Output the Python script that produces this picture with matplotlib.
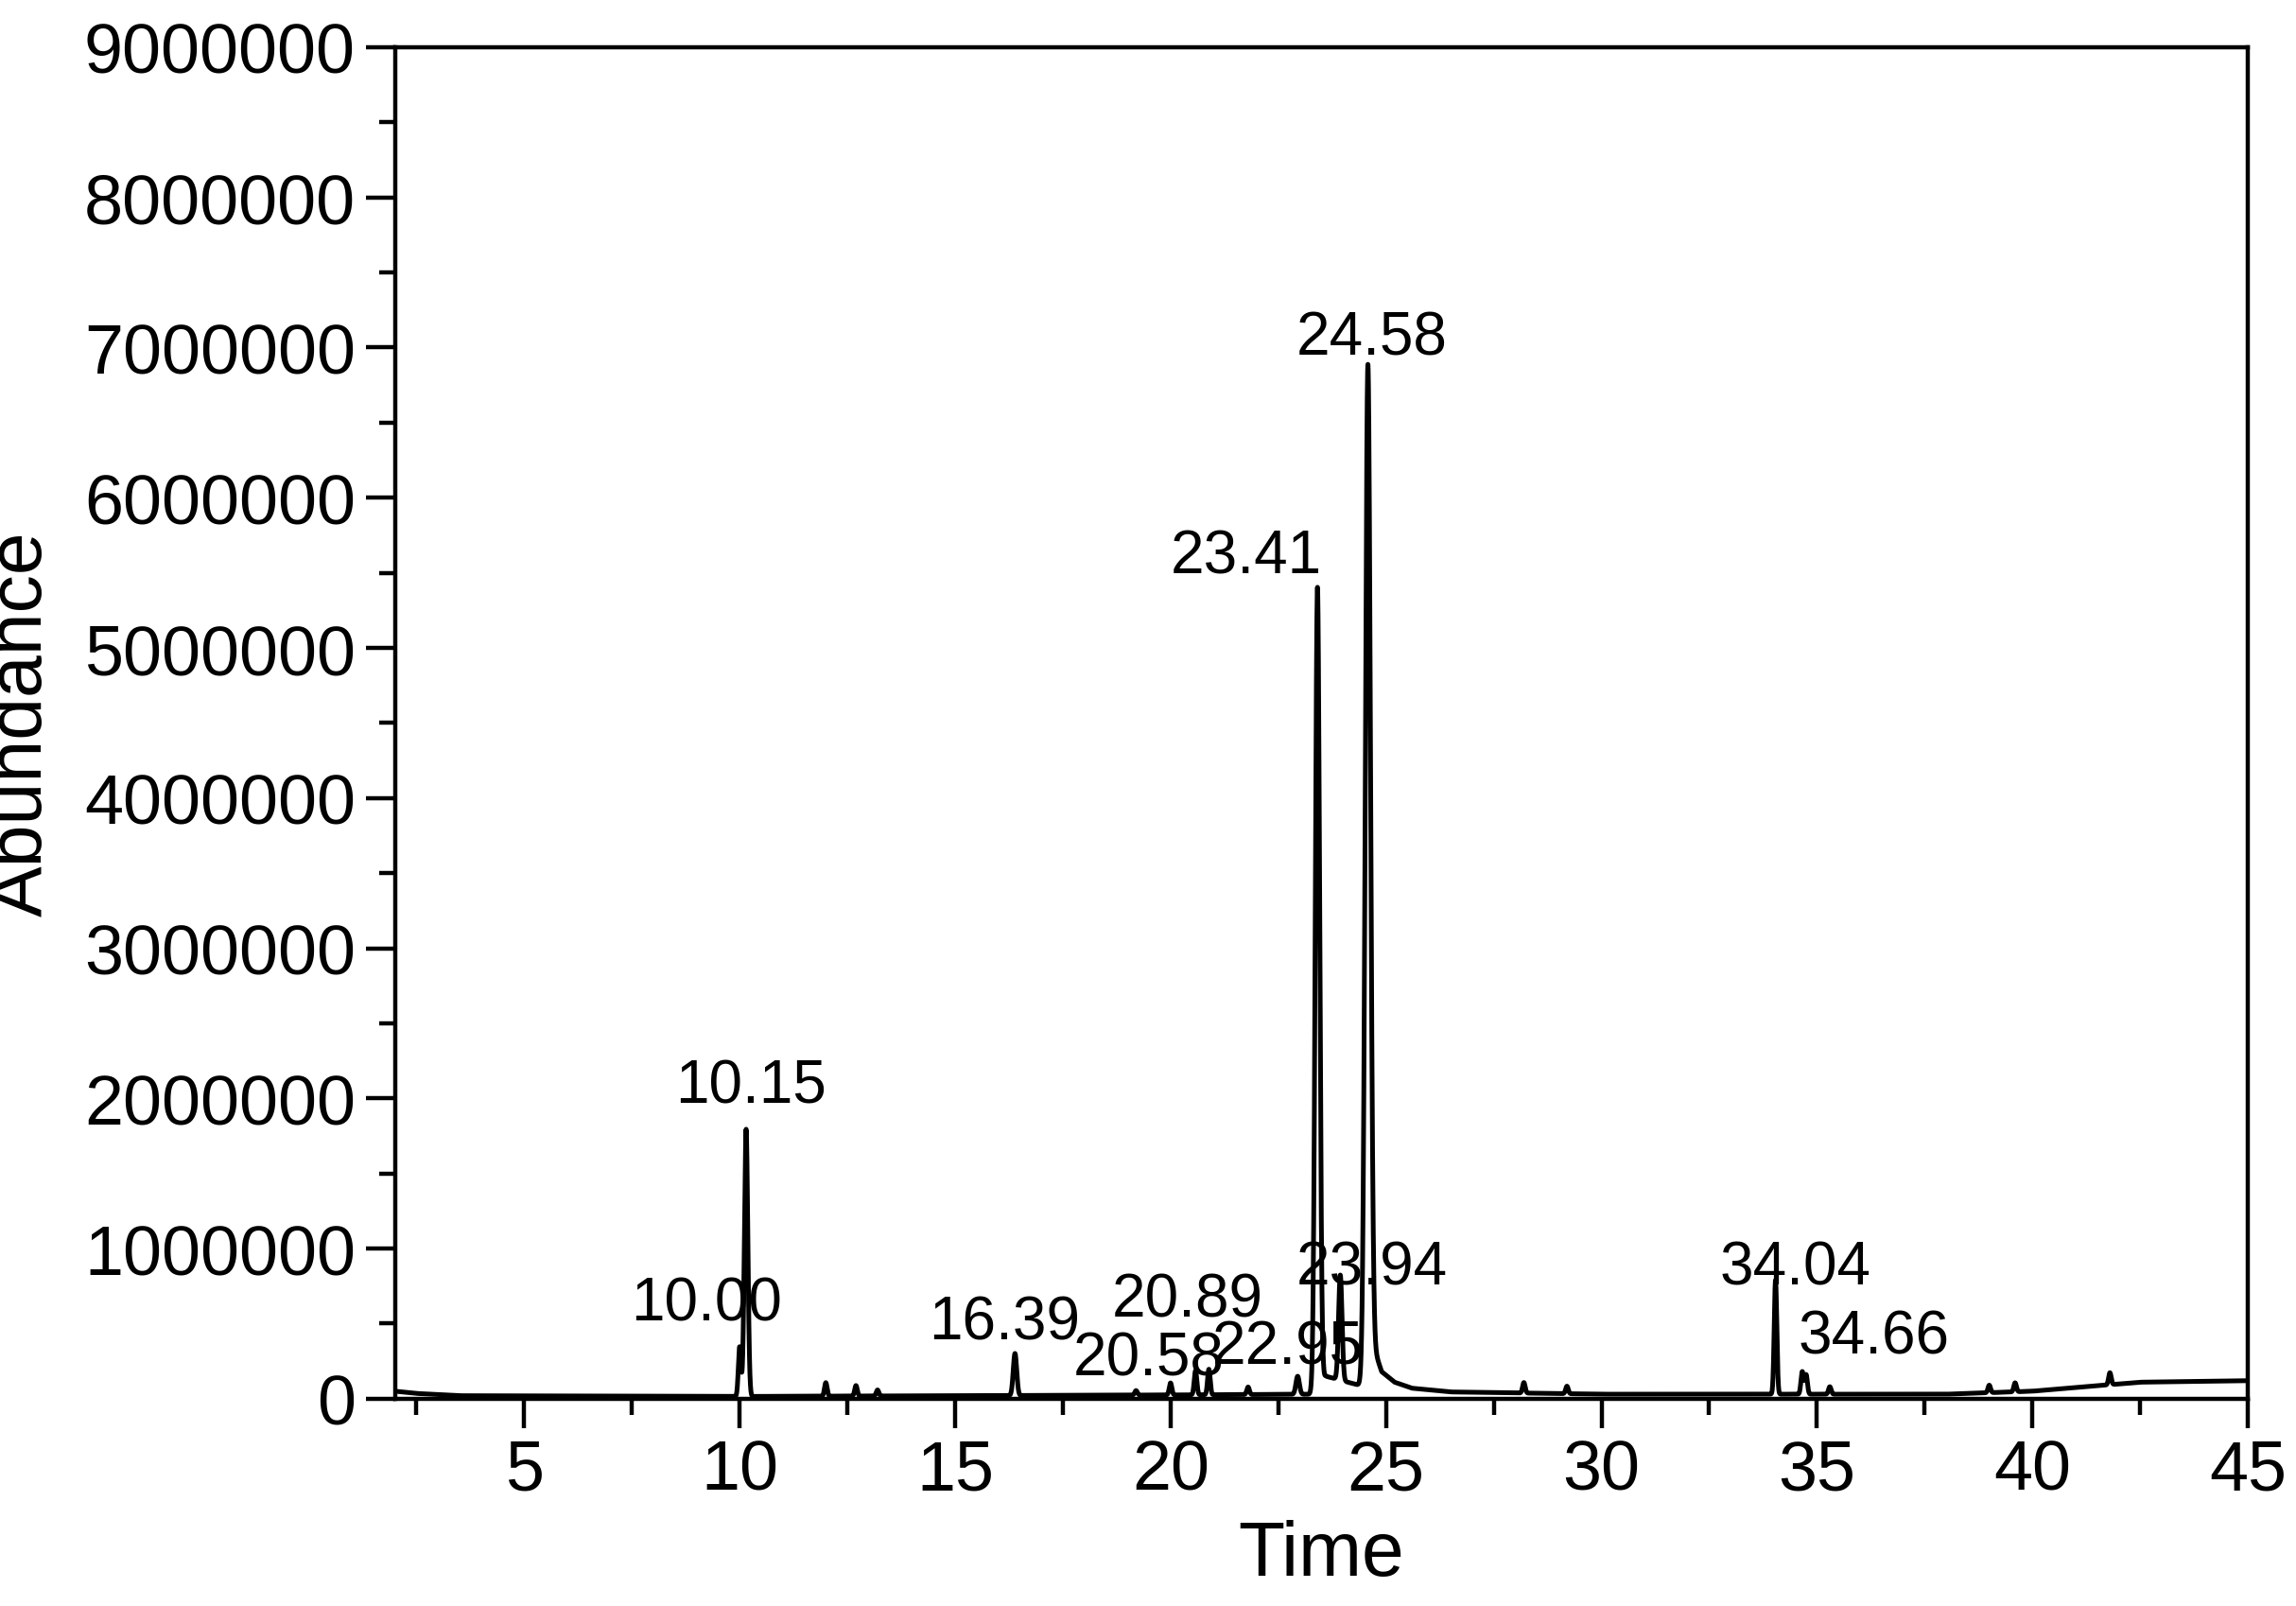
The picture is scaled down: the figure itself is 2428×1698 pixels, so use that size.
import numpy as np
import matplotlib; matplotlib.use("Agg"); import matplotlib.pyplot as plt
from matplotlib.ticker import MultipleLocator

plt.rcParams['font.family'] = ['Liberation Sans', 'DejaVu Sans']

# 峰的位置、高度、寬度（從圖上估的）
PEAK_T = [10.00, 10.15, 12.0, 12.7, 13.2, 16.39, 19.2, 20.0, 20.58, 20.89, 21.8, 22.95,
          23.41, 23.94, 24.58, 28.2, 29.2, 34.04, 34.66, 34.75, 35.3, 39.0, 39.6, 41.8]
PEAK_H = [330000, 1780000, 90000, 70000, 40000, 280000, 30000, 80000, 160000, 170000, 50000, 120000,
          5330000, 700000, 6700000, 70000, 50000, 760000, 150000, 130000, 50000, 50000, 60000, 80000]
PEAK_W = [0.03, 0.04, 0.03, 0.03, 0.03, 0.04, 0.03, 0.03, 0.03, 0.03, 0.03, 0.04,
          0.05, 0.04, 0.06, 0.03, 0.03, 0.03, 0.03, 0.03, 0.03, 0.03, 0.03, 0.03]
# 基線節點
BASE_T = [2.0, 2.5, 3.5, 10.0, 20.0, 23.3, 23.6, 24.5, 24.7, 24.9, 25.2, 25.6, 26.5, 30.0, 38.0, 40.0, 42.5, 45.0]
BASE_Y = [50000, 35000, 20000, 15000, 25000, 30000, 150000, 80000, 350000, 180000, 110000, 70000, 45000, 30000, 30000, 50000, 110000, 120000]

LABELS = ["10.00", "10.15", "16.39", "20.58", "20.89", "22.95", "23.41", "23.94", "24.58", "34.04", "34.66"]
LAB_X = [9.24, 10.26, 16.14, 19.5, 20.39, 22.73, 21.75, 24.67, 24.67, 34.5, 36.33]
LAB_Y = [634000, 2080000, 508000, 264000, 654000, 342000, 5610000, 869000, 7060000, 869000, 410000]

t = np.linspace(2, 45, 20000)
y = np.interp(t, BASE_T, BASE_Y)
for p, h, w in zip(PEAK_T, PEAK_H, PEAK_W):
    y += h * np.exp(-0.5 * ((t - p) / w) ** 2)

fig = plt.figure(figsize=(12.14, 8.495), dpi=200)
ax = fig.add_axes([0.172, 0.129, 0.807, 0.841])
ax.plot(t, y, color="black", lw=1.8)
for s, x0, y0 in zip(LABELS, LAB_X, LAB_Y):
    ax.text(x0, y0, s, ha="center", va="center", fontsize=23)
ax.set_xlim(2, 45); ax.set_ylim(0, 9000000)
ax.xaxis.set_major_locator(MultipleLocator(5)); ax.xaxis.set_minor_locator(MultipleLocator(2.5))
ax.yaxis.set_major_locator(MultipleLocator(1000000)); ax.yaxis.set_minor_locator(MultipleLocator(500000))
ax.tick_params(which="major", direction="out", length=11, width=1.6, labelsize=26.5, pad=4)
ax.tick_params(which="minor", direction="out", length=6, width=1.6)
ax.yaxis.set_major_formatter(plt.FuncFormatter(lambda v, _: f"{int(v)}"))
for sp in ax.spines.values(): sp.set_linewidth(1.6)
ax.set_xlabel("Time", fontsize=29, labelpad=6)
ax.set_ylabel("Abundance", fontsize=29, labelpad=10)
fig.savefig("out.png", dpi=200)
